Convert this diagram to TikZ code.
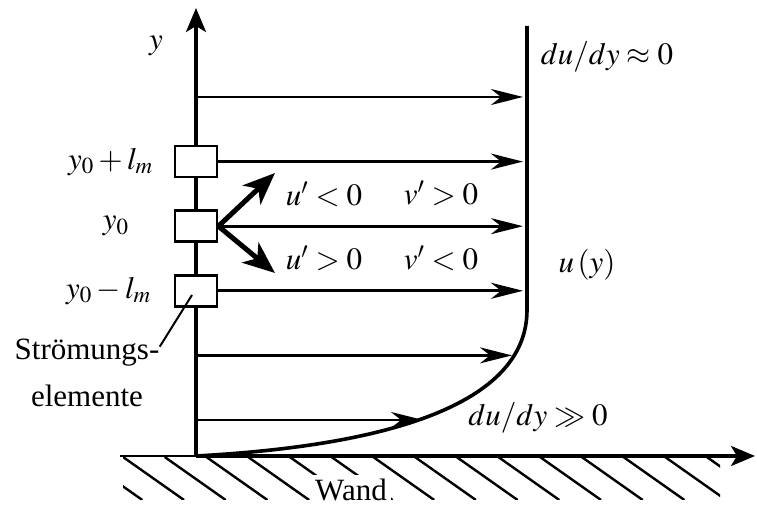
\documentclass[tikz,border=0pt]{standalone}
\usepackage{mathptmx}
\usepackage[no-math]{fontspec}
\setmainfont{Liberation Serif}
\usetikzlibrary{arrows.meta,positioning,calc}
\tikzset{
  elem/.style  ={draw,line width=1.4pt,fill=white,minimum width=21pt,
                 minimum height=15.5pt,inner sep=0pt},
  vel/.style   ={-{Stealth[length=16pt,width=8pt,inset=5pt]},line width=1.45pt},
  fluct/.style ={-{Stealth[length=16pt,width=13pt,inset=4.5pt]},line width=2.5pt},
  axis/.style  ={-{Stealth[length=12pt,width=10pt,inset=3pt]},line width=1.7pt},
  hatch/.style ={line width=1.2pt},
  lbl/.style   ={font=\fontsize{15.5}{18.6}\selectfont,inner sep=0pt}
}

\begin{document}
\begin{tikzpicture}[x=0.5pt,y=-0.5pt,every node/.style={lbl}]
  \useasboundingbox (0,0) rectangle (757,506);
  % wall with hatching
  \begin{scope}
    \clip (123,457) rectangle (720,500);
    \foreach \i in {-1,...,14}
      \draw[hatch] ({123+41.7*\i},457) -- ++(61,43);
  \end{scope}
  \node[fill=white,inner sep=2pt] (wand) at (351,490) {Wand};

  % axes
  \coordinate (O) at (196,456);
  \coordinate (wl) at (120,456);
  \coordinate (xend) at (755,456);
  \coordinate (yend) at (196,8);
  \draw[line width=0.9pt] (wl) -- (O);
  \draw[axis] (O) -- (xend);
  \draw[axis] (O) -- (yend);
  \node (ylab) at (156,46) {$y$};

  % velocity profile u(y)
  \draw[line width=1.8pt] (527,26) -- (527,310) .. controls (527,400) and (400,445) .. (O);

  % fluid elements
  \node[elem] (e1) at (196,161.6) {};
  \node[elem] (e0) at (196,226.2) {};
  \node[elem] (e2) at (196,290.8) {};
  \node[left=10pt of e1] (l1) {$y_0+l_m$};
  \node[left=22pt of e0] (l0) {$y_0$};
  \node[left=11pt of e2] (l2) {$y_0-l_m$};

  % velocity arrows
  \foreach \r/\t in {97/523,355.4/512,420/423}
    \draw[vel] (196,\r) -- (\t,\r);
  \draw[vel] (e1.east) -- (523,161.6);
  \draw[vel] (e0.east) -- (523,226.2);
  \draw[vel] (e2.east) -- (523,290.8);

  % fluctuations
  \coordinate (up) at (275,173);
  \coordinate (dn) at (275,273);
  \draw[fluct] (e0.east) -- (up);
  \draw[fluct] (e0.east) -- (dn);
  \node (ua) at (324,194) {$u'<0$};
  \node (va) at (441,193) {$v'>0$};
  \node (ub) at (324,258) {$u'>0$};
  \node (vb) at (441,258) {$v'<0$};

  \node (top) at (607,57) {$du/dy\approx0$};
  \node (uy) at (587,265) {$u\,(y)$};
  \node (bot) at (538,418) {$du/dy\gg0$};

  \node[align=center,font=\fontsize{15.5}{23.5}\selectfont] (strom) at (87,373)
    {Strömungs-\\elemente};
  \coordinate (lead) at (192,295);
  \draw[line width=1pt] ([yshift=-4pt]strom.north east) -- (lead);
\end{tikzpicture}
\end{document}
